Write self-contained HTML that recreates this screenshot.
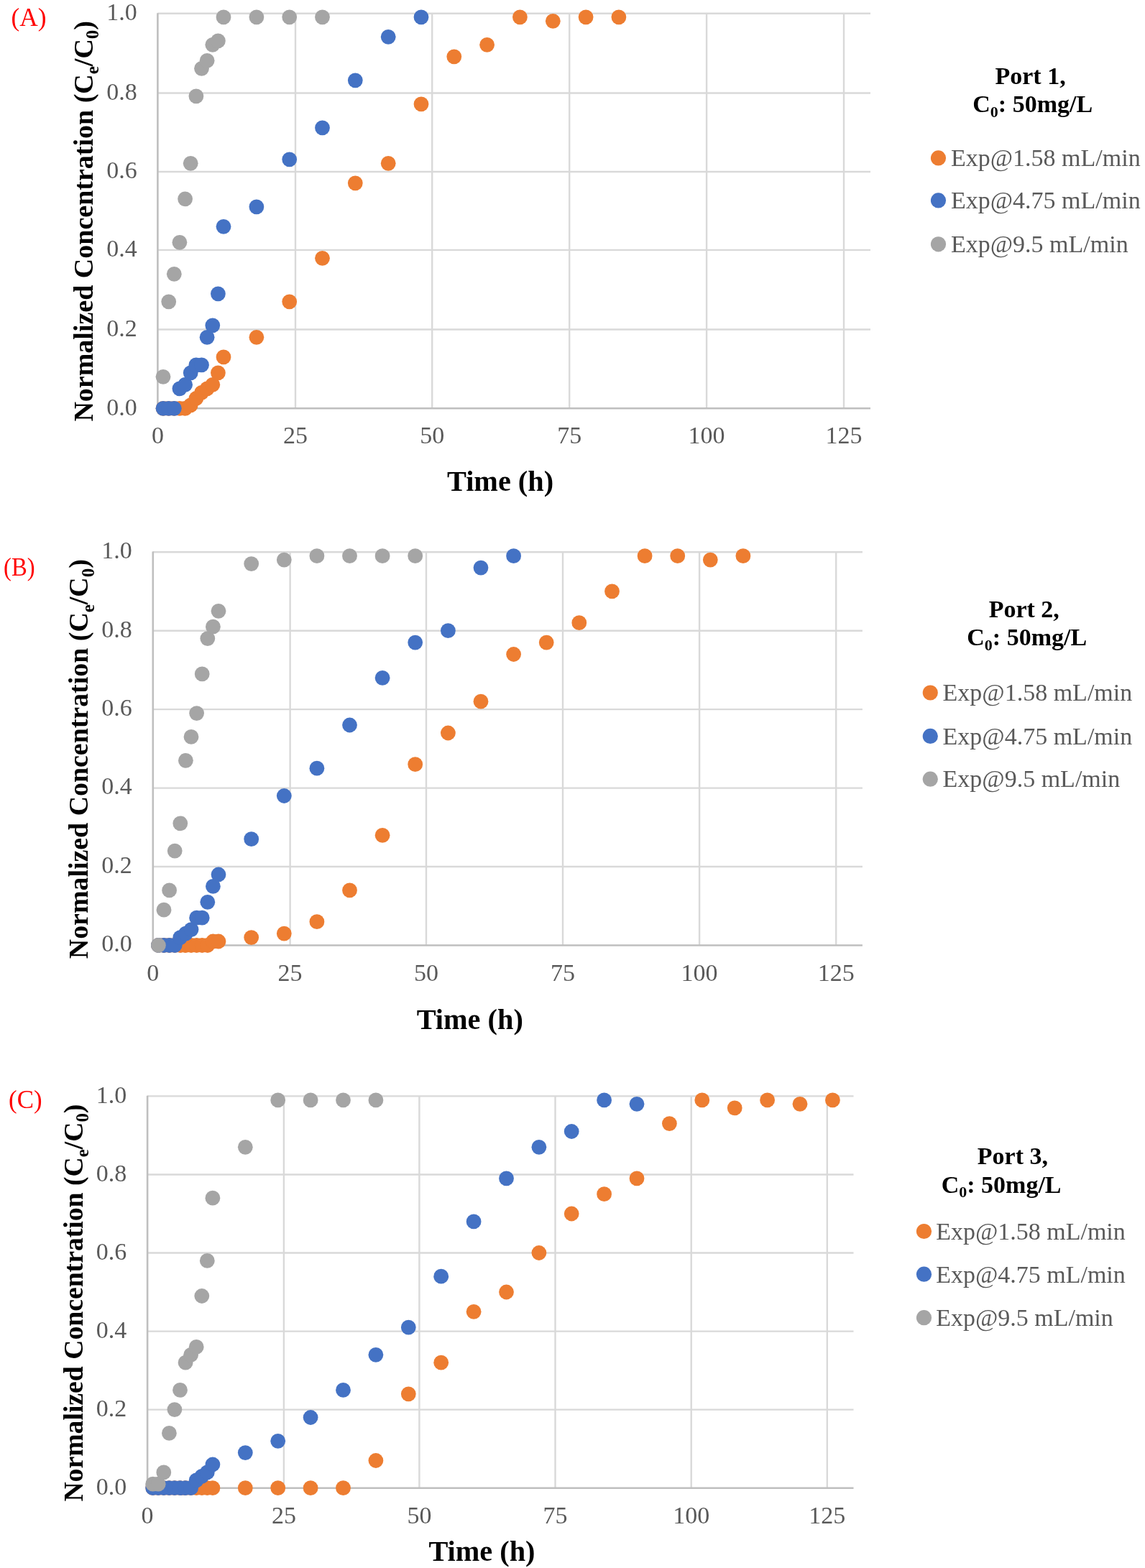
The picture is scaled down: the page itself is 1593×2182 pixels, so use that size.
<!DOCTYPE html>
<html><head><meta charset="utf-8"><title>Breakthrough curves</title>
<style>
html,body{margin:0;padding:0;background:#fff;}
svg{display:block;}
text{font-family:"Liberation Serif","Times New Roman",serif;}
.tk{font-size:34px;fill:#595959;}
.lg{font-size:34px;fill:#595959;}
.tt{font-size:34px;font-weight:bold;fill:#000;}
.ax{font-size:40.3px;font-weight:bold;fill:#000;}
.yt{font-size:39px;font-weight:bold;fill:#000;}
.pl{font-size:36px;fill:#FF0000;}
</style></head><body>
<svg width="1593" height="2182" viewBox="0 0 1593 2182">
<rect width="1593" height="2182" fill="#fff"/>
<g>
<text class="pl" x="15.6" y="35.7" textLength="49" lengthAdjust="spacingAndGlyphs">(A)</text>
<line x1="219.4" y1="18.8" x2="1211" y2="18.8" stroke="#D9D9D9" stroke-width="2.4"/>
<line x1="219.4" y1="129.5" x2="1211" y2="129.5" stroke="#D9D9D9" stroke-width="2.4"/>
<line x1="219.4" y1="239" x2="1211" y2="239" stroke="#D9D9D9" stroke-width="2.4"/>
<line x1="219.4" y1="347.9" x2="1211" y2="347.9" stroke="#D9D9D9" stroke-width="2.4"/>
<line x1="219.4" y1="458.5" x2="1211" y2="458.5" stroke="#D9D9D9" stroke-width="2.4"/>
<line x1="411" y1="18.8" x2="411" y2="568.3" stroke="#D9D9D9" stroke-width="2.4"/>
<line x1="601.2" y1="18.8" x2="601.2" y2="568.3" stroke="#D9D9D9" stroke-width="2.4"/>
<line x1="792.2" y1="18.8" x2="792.2" y2="568.3" stroke="#D9D9D9" stroke-width="2.4"/>
<line x1="983.1" y1="18.8" x2="983.1" y2="568.3" stroke="#D9D9D9" stroke-width="2.4"/>
<line x1="1174" y1="18.8" x2="1174" y2="568.3" stroke="#D9D9D9" stroke-width="2.4"/>
<line x1="219.4" y1="18.2" x2="219.4" y2="568.3" stroke="#BFBFBF" stroke-width="2.6"/>
<line x1="218.1" y1="568.3" x2="1211" y2="568.3" stroke="#BFBFBF" stroke-width="2.6"/>
<text class="tk" x="190.7" y="577.5" text-anchor="end">0.0</text>
<text class="tk" x="190.7" y="467.7" text-anchor="end">0.2</text>
<text class="tk" x="190.7" y="357.1" text-anchor="end">0.4</text>
<text class="tk" x="190.7" y="248.2" text-anchor="end">0.6</text>
<text class="tk" x="190.7" y="138.7" text-anchor="end">0.8</text>
<text class="tk" x="190.7" y="28" text-anchor="end">1.0</text>
<text class="tk" x="219.4" y="617.4" text-anchor="middle">0</text>
<text class="tk" x="411" y="617.4" text-anchor="middle">25</text>
<text class="tk" x="601.2" y="617.4" text-anchor="middle">50</text>
<text class="tk" x="792.2" y="617.4" text-anchor="middle">75</text>
<text class="tk" x="983.1" y="617.4" text-anchor="middle">100</text>
<text class="tk" x="1174" y="617.4" text-anchor="middle">125</text>
<g fill="#ED7D31">
<circle cx="227" cy="568.3" r="10.4"/>
<circle cx="234.7" cy="568.3" r="10.4"/>
<circle cx="242.3" cy="568.3" r="10.4"/>
<circle cx="249.9" cy="568.3" r="10.4"/>
<circle cx="257.6" cy="568.3" r="10.4"/>
<circle cx="265.2" cy="563.9" r="10.4"/>
<circle cx="272.9" cy="554.5" r="10.4"/>
<circle cx="280.5" cy="546.3" r="10.4"/>
<circle cx="288.1" cy="540.8" r="10.4"/>
<circle cx="295.8" cy="535.3" r="10.4"/>
<circle cx="303.4" cy="518.8" r="10.4"/>
<circle cx="311" cy="496.8" r="10.4"/>
<circle cx="356.9" cy="469.3" r="10.4"/>
<circle cx="402.7" cy="419.8" r="10.4"/>
<circle cx="448.5" cy="359.3" r="10.4"/>
<circle cx="494.3" cy="254.8" r="10.4"/>
<circle cx="540.2" cy="227.3" r="10.4"/>
<circle cx="586" cy="144.8" r="10.4"/>
<circle cx="631.8" cy="78.8" r="10.4"/>
<circle cx="677.6" cy="62.3" r="10.4"/>
<circle cx="723.4" cy="23.8" r="10.4"/>
<circle cx="769.3" cy="29.3" r="10.4"/>
<circle cx="815.1" cy="23.8" r="10.4"/>
<circle cx="860.9" cy="23.8" r="10.4"/>
</g>
<g fill="#4472C4">
<circle cx="227" cy="568.3" r="10.4"/>
<circle cx="234.7" cy="568.3" r="10.4"/>
<circle cx="242.3" cy="568.3" r="10.4"/>
<circle cx="249.9" cy="540.8" r="10.4"/>
<circle cx="257.6" cy="535.3" r="10.4"/>
<circle cx="265.2" cy="518.8" r="10.4"/>
<circle cx="272.9" cy="507.8" r="10.4"/>
<circle cx="280.5" cy="507.8" r="10.4"/>
<circle cx="288.1" cy="469.3" r="10.4"/>
<circle cx="295.8" cy="452.8" r="10.4"/>
<circle cx="303.4" cy="408.8" r="10.4"/>
<circle cx="311" cy="315.3" r="10.4"/>
<circle cx="356.9" cy="287.8" r="10.4"/>
<circle cx="402.7" cy="221.8" r="10.4"/>
<circle cx="448.5" cy="177.8" r="10.4"/>
<circle cx="494.3" cy="111.8" r="10.4"/>
<circle cx="540.2" cy="51.3" r="10.4"/>
<circle cx="586" cy="23.8" r="10.4"/>
</g>
<g fill="#A5A5A5">
<circle cx="227" cy="524.3" r="10.4"/>
<circle cx="234.7" cy="419.8" r="10.4"/>
<circle cx="242.3" cy="381.3" r="10.4"/>
<circle cx="249.9" cy="337.3" r="10.4"/>
<circle cx="257.6" cy="276.8" r="10.4"/>
<circle cx="265.2" cy="227.3" r="10.4"/>
<circle cx="272.9" cy="133.8" r="10.4"/>
<circle cx="280.5" cy="95.3" r="10.4"/>
<circle cx="288.1" cy="84.3" r="10.4"/>
<circle cx="295.8" cy="62.3" r="10.4"/>
<circle cx="303.4" cy="56.8" r="10.4"/>
<circle cx="311" cy="23.8" r="10.4"/>
<circle cx="356.9" cy="23.8" r="10.4"/>
<circle cx="402.7" cy="23.8" r="10.4"/>
<circle cx="448.5" cy="23.8" r="10.4"/>
</g>
<text class="ax" x="622" y="682.7">Time (h)</text>
<text class="yt" style="font-size:38px" transform="translate(128.70 586.62) rotate(-90)" x="0" y="0">Normalized Concentration (C<tspan style="font-size:25.00px" dy="8.40">e</tspan><tspan dy="-8.40">/C</tspan><tspan style="font-size:25.00px" dy="8.40">0</tspan><tspan dy="-8.40">)</tspan></text>
<text class="tt" x="1384.5" y="117">Port 1,</text>
<text class="tt" x="1353.3" y="156.3">C<tspan font-size="22" dy="6.5">0</tspan><tspan dy="-6.5">: 50mg/L</tspan></text>
<circle cx="1305.5" cy="219.9" r="10.6" fill="#ED7D31"/>
<text class="lg" x="1323" y="231.3">Exp@1.58 mL/min</text>
<circle cx="1305.5" cy="278.9" r="10.6" fill="#4472C4"/>
<text class="lg" x="1323" y="290.3">Exp@4.75 mL/min</text>
<circle cx="1305.5" cy="339.8" r="10.6" fill="#A5A5A5"/>
<text class="lg" x="1323" y="351.2">Exp@9.5 mL/min</text>
</g>
<g>
<text class="pl" x="5.1" y="800.7" textLength="43.6" lengthAdjust="spacingAndGlyphs">(B)</text>
<line x1="212.8" y1="768.2" x2="1199.9" y2="768.2" stroke="#D9D9D9" stroke-width="2.4"/>
<line x1="212.8" y1="877.7" x2="1199.9" y2="877.7" stroke="#D9D9D9" stroke-width="2.4"/>
<line x1="212.8" y1="987.1" x2="1199.9" y2="987.1" stroke="#D9D9D9" stroke-width="2.4"/>
<line x1="212.8" y1="1096.6" x2="1199.9" y2="1096.6" stroke="#D9D9D9" stroke-width="2.4"/>
<line x1="212.8" y1="1206" x2="1199.9" y2="1206" stroke="#D9D9D9" stroke-width="2.4"/>
<line x1="403.6" y1="768.2" x2="403.6" y2="1315.5" stroke="#D9D9D9" stroke-width="2.4"/>
<line x1="593" y1="768.2" x2="593" y2="1315.5" stroke="#D9D9D9" stroke-width="2.4"/>
<line x1="783" y1="768.2" x2="783" y2="1315.5" stroke="#D9D9D9" stroke-width="2.4"/>
<line x1="973.1" y1="768.2" x2="973.1" y2="1315.5" stroke="#D9D9D9" stroke-width="2.4"/>
<line x1="1163.2" y1="768.2" x2="1163.2" y2="1315.5" stroke="#D9D9D9" stroke-width="2.4"/>
<line x1="212.8" y1="767.6" x2="212.8" y2="1315.5" stroke="#BFBFBF" stroke-width="2.6"/>
<line x1="211.5" y1="1315.5" x2="1199.9" y2="1315.5" stroke="#BFBFBF" stroke-width="2.6"/>
<text class="tk" x="183.8" y="1324.3" text-anchor="end">0.0</text>
<text class="tk" x="183.8" y="1214.8" text-anchor="end">0.2</text>
<text class="tk" x="183.8" y="1105.4" text-anchor="end">0.4</text>
<text class="tk" x="183.8" y="995.9" text-anchor="end">0.6</text>
<text class="tk" x="183.8" y="886.5" text-anchor="end">0.8</text>
<text class="tk" x="183.8" y="777" text-anchor="end">1.0</text>
<text class="tk" x="212.8" y="1364.6" text-anchor="middle">0</text>
<text class="tk" x="403.6" y="1364.6" text-anchor="middle">25</text>
<text class="tk" x="593" y="1364.6" text-anchor="middle">50</text>
<text class="tk" x="783" y="1364.6" text-anchor="middle">75</text>
<text class="tk" x="973.1" y="1364.6" text-anchor="middle">100</text>
<text class="tk" x="1163.2" y="1364.6" text-anchor="middle">125</text>
<g fill="#ED7D31">
<circle cx="220.4" cy="1315.5" r="10.4"/>
<circle cx="228" cy="1315.5" r="10.4"/>
<circle cx="235.6" cy="1315.5" r="10.4"/>
<circle cx="243.2" cy="1315.5" r="10.4"/>
<circle cx="250.8" cy="1315.5" r="10.4"/>
<circle cx="258.4" cy="1315.5" r="10.4"/>
<circle cx="266" cy="1315.5" r="10.4"/>
<circle cx="273.6" cy="1315.5" r="10.4"/>
<circle cx="281.2" cy="1315.5" r="10.4"/>
<circle cx="288.8" cy="1315.5" r="10.4"/>
<circle cx="296.4" cy="1310" r="10.4"/>
<circle cx="304" cy="1310" r="10.4"/>
<circle cx="349.7" cy="1304.6" r="10.4"/>
<circle cx="395.3" cy="1299.1" r="10.4"/>
<circle cx="440.9" cy="1282.7" r="10.4"/>
<circle cx="486.5" cy="1238.9" r="10.4"/>
<circle cx="532.1" cy="1162.3" r="10.4"/>
<circle cx="577.7" cy="1063.7" r="10.4"/>
<circle cx="623.4" cy="1020" r="10.4"/>
<circle cx="669" cy="976.2" r="10.4"/>
<circle cx="714.6" cy="910.5" r="10.4"/>
<circle cx="760.2" cy="894.1" r="10.4"/>
<circle cx="805.8" cy="866.7" r="10.4"/>
<circle cx="851.5" cy="822.9" r="10.4"/>
<circle cx="897.1" cy="773.7" r="10.4"/>
<circle cx="942.7" cy="773.7" r="10.4"/>
<circle cx="988.3" cy="779.1" r="10.4"/>
<circle cx="1033.9" cy="773.7" r="10.4"/>
</g>
<g fill="#4472C4">
<circle cx="220.4" cy="1315.5" r="10.4"/>
<circle cx="228" cy="1315.5" r="10.4"/>
<circle cx="235.6" cy="1315.5" r="10.4"/>
<circle cx="243.2" cy="1315.5" r="10.4"/>
<circle cx="250.8" cy="1304.6" r="10.4"/>
<circle cx="258.4" cy="1299.1" r="10.4"/>
<circle cx="266" cy="1293.6" r="10.4"/>
<circle cx="273.6" cy="1277.2" r="10.4"/>
<circle cx="281.2" cy="1277.2" r="10.4"/>
<circle cx="288.8" cy="1255.3" r="10.4"/>
<circle cx="296.4" cy="1233.4" r="10.4"/>
<circle cx="304" cy="1217" r="10.4"/>
<circle cx="349.7" cy="1167.7" r="10.4"/>
<circle cx="395.3" cy="1107.5" r="10.4"/>
<circle cx="440.9" cy="1069.2" r="10.4"/>
<circle cx="486.5" cy="1009" r="10.4"/>
<circle cx="532.1" cy="943.3" r="10.4"/>
<circle cx="577.7" cy="894.1" r="10.4"/>
<circle cx="623.4" cy="877.7" r="10.4"/>
<circle cx="669" cy="790.1" r="10.4"/>
<circle cx="714.6" cy="773.7" r="10.4"/>
</g>
<g fill="#A5A5A5">
<circle cx="220.4" cy="1315.5" r="10.4"/>
<circle cx="228" cy="1266.2" r="10.4"/>
<circle cx="235.6" cy="1238.9" r="10.4"/>
<circle cx="243.2" cy="1184.1" r="10.4"/>
<circle cx="250.8" cy="1145.8" r="10.4"/>
<circle cx="258.4" cy="1058.3" r="10.4"/>
<circle cx="266" cy="1025.4" r="10.4"/>
<circle cx="273.6" cy="992.6" r="10.4"/>
<circle cx="281.2" cy="937.9" r="10.4"/>
<circle cx="288.8" cy="888.6" r="10.4"/>
<circle cx="296.4" cy="872.2" r="10.4"/>
<circle cx="304" cy="850.3" r="10.4"/>
<circle cx="349.7" cy="784.6" r="10.4"/>
<circle cx="395.3" cy="779.1" r="10.4"/>
<circle cx="440.9" cy="773.7" r="10.4"/>
<circle cx="486.5" cy="773.7" r="10.4"/>
<circle cx="532.1" cy="773.7" r="10.4"/>
<circle cx="577.7" cy="773.7" r="10.4"/>
</g>
<text class="ax" x="579.7" y="1432">Time (h)</text>
<text class="yt" style="font-size:37.9px" transform="translate(122.40 1334.22) rotate(-90)" x="0" y="0">Normalized Concentration (C<tspan style="font-size:24.90px" dy="8.37">e</tspan><tspan dy="-8.37">/C</tspan><tspan style="font-size:24.90px" dy="8.37">0</tspan><tspan dy="-8.37">)</tspan></text>
<text class="tt" x="1375.7" y="858.5">Port 2,</text>
<text class="tt" x="1345.3" y="898.1">C<tspan font-size="22" dy="6.5">0</tspan><tspan dy="-6.5">: 50mg/L</tspan></text>
<circle cx="1294.3" cy="964" r="10.6" fill="#ED7D31"/>
<text class="lg" x="1311.6" y="975.1">Exp@1.58 mL/min</text>
<circle cx="1294.3" cy="1024.4" r="10.6" fill="#4472C4"/>
<text class="lg" x="1311.6" y="1035.5">Exp@4.75 mL/min</text>
<circle cx="1294.3" cy="1084.2" r="10.6" fill="#A5A5A5"/>
<text class="lg" x="1311.6" y="1095.3">Exp@9.5 mL/min</text>
</g>
<g>
<text class="pl" x="12.1" y="1542.2" textLength="46.5" lengthAdjust="spacingAndGlyphs">(C)</text>
<line x1="205.1" y1="1525.4" x2="1187.5" y2="1525.4" stroke="#D9D9D9" stroke-width="2.4"/>
<line x1="205.1" y1="1634.5" x2="1187.5" y2="1634.5" stroke="#D9D9D9" stroke-width="2.4"/>
<line x1="205.1" y1="1743.5" x2="1187.5" y2="1743.5" stroke="#D9D9D9" stroke-width="2.4"/>
<line x1="205.1" y1="1852.6" x2="1187.5" y2="1852.6" stroke="#D9D9D9" stroke-width="2.4"/>
<line x1="205.1" y1="1961.6" x2="1187.5" y2="1961.6" stroke="#D9D9D9" stroke-width="2.4"/>
<line x1="394.9" y1="1525.4" x2="394.9" y2="2070.7" stroke="#D9D9D9" stroke-width="2.4"/>
<line x1="583.4" y1="1525.4" x2="583.4" y2="2070.7" stroke="#D9D9D9" stroke-width="2.4"/>
<line x1="772.5" y1="1525.4" x2="772.5" y2="2070.7" stroke="#D9D9D9" stroke-width="2.4"/>
<line x1="961.7" y1="1525.4" x2="961.7" y2="2070.7" stroke="#D9D9D9" stroke-width="2.4"/>
<line x1="1150.8" y1="1525.4" x2="1150.8" y2="2070.7" stroke="#D9D9D9" stroke-width="2.4"/>
<line x1="205.1" y1="1524.8" x2="205.1" y2="2070.7" stroke="#BFBFBF" stroke-width="2.6"/>
<line x1="203.8" y1="2070.7" x2="1187.5" y2="2070.7" stroke="#BFBFBF" stroke-width="2.6"/>
<text class="tk" x="176.3" y="2079.9" text-anchor="end">0.0</text>
<text class="tk" x="176.3" y="1970.8" text-anchor="end">0.2</text>
<text class="tk" x="176.3" y="1861.8" text-anchor="end">0.4</text>
<text class="tk" x="176.3" y="1752.7" text-anchor="end">0.6</text>
<text class="tk" x="176.3" y="1643.7" text-anchor="end">0.8</text>
<text class="tk" x="176.3" y="1534.6" text-anchor="end">1.0</text>
<text class="tk" x="205.1" y="2119.8" text-anchor="middle">0</text>
<text class="tk" x="394.9" y="2119.8" text-anchor="middle">25</text>
<text class="tk" x="583.4" y="2119.8" text-anchor="middle">50</text>
<text class="tk" x="772.5" y="2119.8" text-anchor="middle">75</text>
<text class="tk" x="961.7" y="2119.8" text-anchor="middle">100</text>
<text class="tk" x="1150.8" y="2119.8" text-anchor="middle">125</text>
<g fill="#ED7D31">
<circle cx="212.7" cy="2070.7" r="10.4"/>
<circle cx="220.2" cy="2070.7" r="10.4"/>
<circle cx="227.8" cy="2070.7" r="10.4"/>
<circle cx="235.4" cy="2070.7" r="10.4"/>
<circle cx="242.9" cy="2070.7" r="10.4"/>
<circle cx="250.5" cy="2070.7" r="10.4"/>
<circle cx="258.1" cy="2070.7" r="10.4"/>
<circle cx="265.6" cy="2070.7" r="10.4"/>
<circle cx="273.2" cy="2070.7" r="10.4"/>
<circle cx="280.8" cy="2070.7" r="10.4"/>
<circle cx="288.3" cy="2070.7" r="10.4"/>
<circle cx="295.9" cy="2070.7" r="10.4"/>
<circle cx="341.3" cy="2070.7" r="10.4"/>
<circle cx="386.7" cy="2070.7" r="10.4"/>
<circle cx="432.1" cy="2070.7" r="10.4"/>
<circle cx="477.5" cy="2070.7" r="10.4"/>
<circle cx="522.9" cy="2032.5" r="10.4"/>
<circle cx="568.3" cy="1939.8" r="10.4"/>
<circle cx="613.7" cy="1896.2" r="10.4"/>
<circle cx="659.1" cy="1825.3" r="10.4"/>
<circle cx="704.5" cy="1798" r="10.4"/>
<circle cx="749.9" cy="1743.5" r="10.4"/>
<circle cx="795.2" cy="1689" r="10.4"/>
<circle cx="840.6" cy="1661.7" r="10.4"/>
<circle cx="886" cy="1639.9" r="10.4"/>
<circle cx="931.4" cy="1563.6" r="10.4"/>
<circle cx="976.8" cy="1530.9" r="10.4"/>
<circle cx="1022.2" cy="1541.8" r="10.4"/>
<circle cx="1067.6" cy="1530.9" r="10.4"/>
<circle cx="1113" cy="1536.3" r="10.4"/>
<circle cx="1158.4" cy="1530.9" r="10.4"/>
</g>
<g fill="#4472C4">
<circle cx="212.7" cy="2070.7" r="10.4"/>
<circle cx="220.2" cy="2070.7" r="10.4"/>
<circle cx="227.8" cy="2070.7" r="10.4"/>
<circle cx="235.4" cy="2070.7" r="10.4"/>
<circle cx="242.9" cy="2070.7" r="10.4"/>
<circle cx="250.5" cy="2070.7" r="10.4"/>
<circle cx="258.1" cy="2070.7" r="10.4"/>
<circle cx="265.6" cy="2070.7" r="10.4"/>
<circle cx="273.2" cy="2059.8" r="10.4"/>
<circle cx="280.8" cy="2054.3" r="10.4"/>
<circle cx="288.3" cy="2048.9" r="10.4"/>
<circle cx="295.9" cy="2038" r="10.4"/>
<circle cx="341.3" cy="2021.6" r="10.4"/>
<circle cx="386.7" cy="2005.3" r="10.4"/>
<circle cx="432.1" cy="1972.5" r="10.4"/>
<circle cx="477.5" cy="1934.4" r="10.4"/>
<circle cx="522.9" cy="1885.3" r="10.4"/>
<circle cx="568.3" cy="1847.1" r="10.4"/>
<circle cx="613.7" cy="1776.2" r="10.4"/>
<circle cx="659.1" cy="1699.9" r="10.4"/>
<circle cx="704.5" cy="1639.9" r="10.4"/>
<circle cx="749.9" cy="1596.3" r="10.4"/>
<circle cx="795.2" cy="1574.5" r="10.4"/>
<circle cx="840.6" cy="1530.9" r="10.4"/>
<circle cx="886" cy="1536.3" r="10.4"/>
</g>
<g fill="#A5A5A5">
<circle cx="212.7" cy="2065.2" r="10.4"/>
<circle cx="220.2" cy="2065.2" r="10.4"/>
<circle cx="227.8" cy="2048.9" r="10.4"/>
<circle cx="235.4" cy="1994.4" r="10.4"/>
<circle cx="242.9" cy="1961.6" r="10.4"/>
<circle cx="250.5" cy="1934.4" r="10.4"/>
<circle cx="258.1" cy="1896.2" r="10.4"/>
<circle cx="265.6" cy="1885.3" r="10.4"/>
<circle cx="273.2" cy="1874.4" r="10.4"/>
<circle cx="280.8" cy="1803.5" r="10.4"/>
<circle cx="288.3" cy="1754.4" r="10.4"/>
<circle cx="295.9" cy="1667.2" r="10.4"/>
<circle cx="341.3" cy="1596.3" r="10.4"/>
<circle cx="386.7" cy="1530.9" r="10.4"/>
<circle cx="432.1" cy="1530.9" r="10.4"/>
<circle cx="477.5" cy="1530.9" r="10.4"/>
<circle cx="522.9" cy="1530.9" r="10.4"/>
</g>
<text class="ax" x="596.4" y="2171.6">Time (h)</text>
<text class="yt" style="font-size:37.7px" transform="translate(114.80 2089.62) rotate(-90)" x="0" y="0">Normalized Concentration (C<tspan style="font-size:24.80px" dy="8.33">e</tspan><tspan dy="-8.33">/C</tspan><tspan style="font-size:24.80px" dy="8.33">0</tspan><tspan dy="-8.33">)</tspan></text>
<text class="tt" x="1359.8" y="1619.8">Port 3,</text>
<text class="tt" x="1309.7" y="1659.7">C<tspan font-size="22" dy="6.5">0</tspan><tspan dy="-6.5">: 50mg/L</tspan></text>
<circle cx="1285.5" cy="1713.5" r="10.6" fill="#ED7D31"/>
<text class="lg" x="1302.2" y="1725">Exp@1.58 mL/min</text>
<circle cx="1285.5" cy="1773.2" r="10.6" fill="#4472C4"/>
<text class="lg" x="1302.2" y="1784.7">Exp@4.75 mL/min</text>
<circle cx="1285.5" cy="1833.7" r="10.6" fill="#A5A5A5"/>
<text class="lg" x="1302.2" y="1845.2">Exp@9.5 mL/min</text>
</g>
</svg>
</body></html>
